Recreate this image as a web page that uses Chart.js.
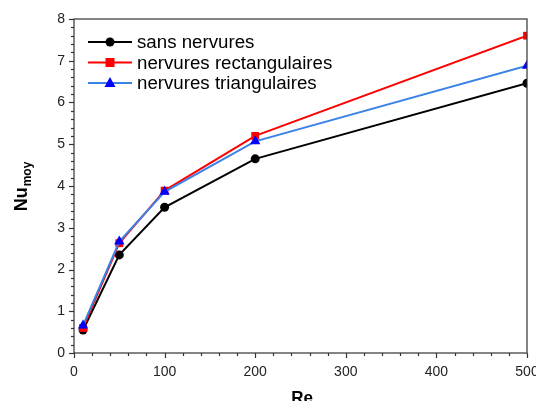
<!DOCTYPE html>
<html>
<head>
<meta charset="utf-8">
<script src="https://cdn.jsdelivr.net/npm/chart.js@4/dist/chart.umd.min.js"></script>
<style>
html,body{margin:0;padding:0;background:#fff;}
#wrap{width:536px;height:401px;position:relative;}
</style>
</head>
<body>
<div id="wrap"><canvas id="c" width="536" height="401"></canvas></div>
<script>
const reynolds = [10, 50, 100, 200, 500];
const sansNervures = [0.55, 2.35, 3.49, 4.65, 6.46];
const nervuresRect = [0.60, 2.63, 3.89, 5.20, 7.60];
const nervuresTri = [0.66, 2.67, 3.86, 5.07, 6.88];
const seriesNames = ['sans nervures', 'nervures rectangulaires', 'nervures triangulaires'];
const xTicks = [0, 100, 200, 300, 400, 500];
const yTicks = [0, 1, 2, 3, 4, 5, 6, 7, 8];

const FONT = '"Liberation Sans", Arial, sans-serif';

function pts(vals){ return reynolds.map((x,i)=>({x:x, y:vals[i]})); }

const datasets = [
  {label: seriesNames[0], data: pts(sansNervures), borderColor:'#000000', backgroundColor:'#000000',
   pointStyle:'circle', pointRadius:4.5, pointBorderWidth:0, pointBorderColor:'#000000', pointBackgroundColor:'#000000', borderWidth:2, order:2},
  {label: seriesNames[1], data: pts(nervuresRect), borderColor:'#ff0000', backgroundColor:'#ff0000',
   pointStyle:'rect', pointRadius:5.5, pointBorderWidth:0, pointBorderColor:'#ff0000', pointBackgroundColor:'#ff0000', borderWidth:2, order:1},
  {label: seriesNames[2], data: pts(nervuresTri), borderColor:'#3b82e6', backgroundColor:'#0000ff',
   pointStyle:'triangle', pointRadius:6, pointBorderWidth:0, pointBorderColor:'#0000ff', pointBackgroundColor:'#0000ff', borderWidth:2, order:0}
];

const decor = {
  id:'decor',
  afterDraw(chart){
    const ctx = chart.ctx, a = chart.chartArea;
    const xs = chart.scales.x, ys = chart.scales.y;
    ctx.save();
    ctx.strokeStyle = '#333';
    ctx.lineWidth = 1.2;
    ctx.strokeRect(a.left, a.top, a.right - a.left, a.bottom - a.top);
    for (let v = 0; v <= 8.0001; v += 0.2) {
      const y = Math.round(ys.getPixelForValue(v)) + 0.5;
      const major = Math.abs(v - Math.round(v)) < 1e-6;
      ctx.beginPath();
      ctx.moveTo(a.left, y);
      ctx.lineTo(a.left - (major ? 5 : 3), y);
      ctx.stroke();
    }
    for (let v = 0; v <= 500.001; v += 20) {
      const x = Math.round(xs.getPixelForValue(v)) + 0.5;
      const major = v % 100 === 0;
      ctx.beginPath();
      ctx.moveTo(x, a.bottom);
      ctx.lineTo(x, a.bottom + (major ? 5 : 3));
      ctx.stroke();
    }
    ctx.fillStyle = '#000';
    ctx.font = 'bold 17px ' + FONT;
    ctx.textAlign = 'center';
    ctx.textBaseline = 'alphabetic';
    ctx.fillText('Re', 302, 403);
    ctx.save();
    ctx.translate(27, 187);
    ctx.rotate(-Math.PI / 2);
    ctx.font = 'bold 18px ' + FONT;
    const w1 = ctx.measureText('Nu').width;
    ctx.font = 'bold 12px ' + FONT;
    const w2 = ctx.measureText('moy').width;
    const start = -(w1 + w2) / 2;
    ctx.textAlign = 'left';
    ctx.font = 'bold 18px ' + FONT;
    ctx.fillText('Nu', start, 0);
    ctx.font = 'bold 12px ' + FONT;
    ctx.fillText('moy', start + w1 + 1, 4);
    ctx.restore();
    const rows = [42, 62.5, 83];
    ctx.font = '18.7px ' + FONT;
    ctx.textAlign = 'left';
    ctx.textBaseline = 'middle';
    datasets.forEach((d, i) => {
      const y = rows[i];
      ctx.strokeStyle = d.borderColor;
      ctx.lineWidth = 2;
      ctx.beginPath();
      ctx.moveTo(88, y); ctx.lineTo(132, y); ctx.stroke();
      ctx.fillStyle = d.pointBackgroundColor;
      ctx.beginPath();
      if (d.pointStyle === 'circle') { ctx.arc(110, y, 4.5, 0, Math.PI * 2); }
      else if (d.pointStyle === 'rect') { ctx.rect(105.5, y - 4.5, 9, 9); }
      else { ctx.moveTo(110, y - 6); ctx.lineTo(115.5, y + 4); ctx.lineTo(104.5, y + 4); ctx.closePath(); }
      ctx.fill();
      ctx.fillStyle = '#000';
      ctx.fillText(d.label, 137, y + 1);
    });
    ctx.restore();
  }
};

new Chart(document.getElementById('c'), {
  type: 'line',
  data: { datasets: datasets },
  options: {
    responsive: false,
    animation: false,
    devicePixelRatio: 1,
    layout: { padding: { top: 19, right: 9, left: 0, bottom: 0 } },
    plugins: { legend: { display: false }, tooltip: { enabled: false } },
    scales: {
      x: {
        type: 'linear', min: 0, max: 500,
        afterFit(s){ s.height = 48; s.paddingLeft = 0; s.paddingRight = 0; },
        afterBuildTicks(s){ s.ticks = xTicks.map(v => ({value: v})); },
        grid: { display: true, drawOnChartArea: false, drawTicks: false },
        border: { display: false },
        ticks: { padding: 11, color: '#222', font: { family: FONT, size: 14 }, maxRotation: 0 }
      },
      y: {
        type: 'linear', min: 0, max: 8,
        afterFit(s){ s.width = 74; s.paddingTop = 0; s.paddingBottom = 0; },
        afterBuildTicks(s){ s.ticks = yTicks.map(v => ({value: v})); },
        grid: { display: true, drawOnChartArea: false, drawTicks: false },
        border: { display: false },
        ticks: { padding: 9, color: '#222', font: { family: FONT, size: 14 } }
      }
    }
  },
  plugins: [decor]
});
</script>
</body>
</html>
